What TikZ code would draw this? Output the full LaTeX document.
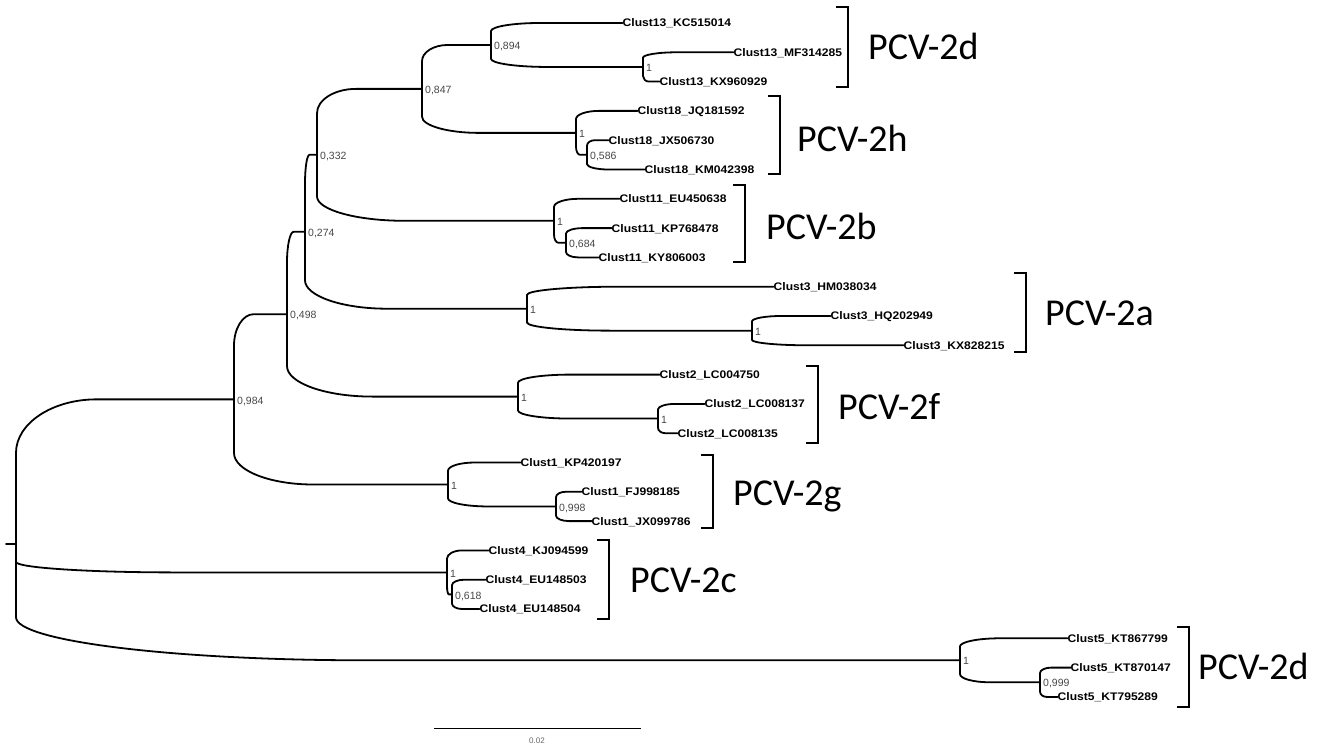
\documentclass[tikz,border=0pt]{standalone}
\usepackage{fontspec}
\setmainfont{Liberation Sans}
\newfontfamily\tipfont[FakeStretch=1.1]{Liberation Sans}
\newfontfamily\pcvfont{Carlito}
\usetikzlibrary{calc}
\tikzset{
  tree/.style={line width=1.8pt, black, line cap=round},
  br/.style={to path={
    let \p1=(\tikztostart), \p2=(\tikztotarget) in
    -- (\x1, {\y1+0.63*(\y2-\y1)})
    .. controls (\x1, {\y1+0.834*(\y2-\y1)}) and ({\x1+0.166*(\x2-\x1)}, \y2)
    .. ({\x1+0.37*(\x2-\x1)}, \y2) -- (\tikztotarget)}},
  tip/.style={anchor=west, inner sep=0pt, font=\tipfont\bfseries\fontsize{11}{12}\selectfont, text height=7.8pt, text depth=0pt},
  bs/.style={anchor=west, inner sep=0pt, font=\fontsize{10.5}{12}\selectfont, text=black!72, text height=7.3pt, text depth=0pt},
  pcv/.style={anchor=west, inner sep=0pt, font=\pcvfont\fontsize{38}{40}\selectfont, text height=24.5pt, text depth=0pt},
  brk/.style={line width=1.5pt, black},
}
\begin{document}
\begin{tikzpicture}[x=1pt,y=-1pt]
\useasboundingbox (0,0) rectangle (1324,746);
% internal nodes
\coordinate (r) at (16,544);
\coordinate (rt) at (6,544);
\coordinate (n0984) at (234,399.35);
\coordinate (n0498) at (287,314.2);
\coordinate (n0274) at (305,231.8);
\coordinate (n0332) at (317,154.85);
\coordinate (n0847) at (422,88.9);
\coordinate (n0894) at (491,44.98);
\coordinate (n13) at (643,66.95);
\coordinate (n18) at (576,132.9);
\coordinate (n0586) at (587,154.85);
\coordinate (n11) at (554,220.8);
\coordinate (n0684) at (566,242.75);
\coordinate (n3) at (527,308.7);
\coordinate (n3b) at (752,330.65);
\coordinate (n2) at (518,396.6);
\coordinate (n2b) at (658,418.55);
\coordinate (n1) at (448,484.5);
\coordinate (n0998) at (556,506.45);
\coordinate (n4) at (447,572.4);
\coordinate (n0618) at (452,594.35);
\coordinate (n5) at (960,660.3);
\coordinate (n0999) at (1040,682.25);
% tips
\node[tip] (t1) at (622.5,23) {Clust13\_KC515014};
\node[tip] (t2) at (733.5,52.3) {Clust13\_MF314285};
\node[tip] (t3) at (659.5,81.6) {Clust13\_KX960929};
\node[tip] (t4) at (637.5,110.9) {Clust18\_JQ181592};
\node[tip] (t5) at (608.5,140.2) {Clust18\_JX506730};
\node[tip] (t6) at (644.5,169.5) {Clust18\_KM042398};
\node[tip] (t7) at (619.5,198.8) {Clust11\_EU450638};
\node[tip] (t8) at (611.5,228.1) {Clust11\_KP768478};
\node[tip] (t9) at (598.5,257.4) {Clust11\_KY806003};
\node[tip] (t10) at (773.5,286.7) {Clust3\_HM038034};
\node[tip] (t11) at (830.5,316) {Clust3\_HQ202949};
\node[tip] (t12) at (903.5,345.3) {Clust3\_KX828215};
\node[tip] (t13) at (659.5,374.6) {Clust2\_LC004750};
\node[tip] (t14) at (704.5,403.9) {Clust2\_LC008137};
\node[tip] (t15) at (677.5,433.2) {Clust2\_LC008135};
\node[tip] (t16) at (520.5,462.5) {Clust1\_KP420197};
\node[tip] (t17) at (581.5,491.8) {Clust1\_FJ998185};
\node[tip] (t18) at (591.5,521.1) {Clust1\_JX099786};
\node[tip] (t19) at (488.5,550.4) {Clust4\_KJ094599};
\node[tip] (t20) at (485.5,579.7) {Clust4\_EU148503};
\node[tip] (t21) at (479.5,609) {Clust4\_EU148504};
\node[tip] (t22) at (1067.5,638.3) {Clust5\_KT867799};
\node[tip] (t23) at (1070.5,667.6) {Clust5\_KT870147};
\node[tip] (t24) at (1057.5,696.9) {Clust5\_KT795289};
% branches
\draw[tree] (rt) -- (r);
\foreach \a/\b in {r/n0984, r/n4, r/n5, n0984/n0498, n0984/n1, n0498/n0274, n0498/n2,
  n0274/n0332, n0274/n3, n0332/n0847, n0332/n11, n0847/n0894, n0847/n18,
  n0894/t1.west, n0894/n13, n13/t2.west, n13/t3.west, n18/t4.west, n18/n0586,
  n0586/t5.west, n0586/t6.west, n11/t7.west, n11/n0684, n0684/t8.west, n0684/t9.west,
  n3/t10.west, n3/n3b, n3b/t11.west, n3b/t12.west, n2/t13.west, n2/n2b,
  n2b/t14.west, n2b/t15.west, n1/t16.west, n1/n0998, n0998/t17.west, n0998/t18.west,
  n4/t19.west, n4/n0618, n0618/t20.west, n0618/t21.west, n5/t22.west, n5/n0999,
  n0999/t23.west, n0999/t24.west}
  \draw[tree] (\a) to[br] (\b);
% support values
\foreach \n/\v in {n0984/{0,984}, n0498/{0,498}, n0274/{0,274}, n0332/{0,332}, n0847/{0,847},
  n0894/{0,894}, n13/1, n18/1, n0586/{0,586}, n11/1, n0684/{0,684}, n3/1, n3b/1,
  n2/1, n2b/1, n1/1, n0998/{0,998}, n4/1, n0618/{0,618}, n5/1, n0999/{0,999}}
  \node[bs] (b-\n) at ($(\n)+(3,1)$) {\v};
% brackets
\draw[brk] (836,7) -- (848,7) -- (848,87) -- (836,87);
\draw[brk] (768,96) -- (780,96) -- (780,174) -- (768,174);
\draw[brk] (733,185) -- (745,185) -- (745,262) -- (733,262);
\draw[brk] (1014,273) -- (1026,273) -- (1026,352) -- (1014,352);
\draw[brk] (806,366) -- (818,366) -- (818,443) -- (806,443);
\draw[brk] (701,455) -- (713,455) -- (713,528) -- (701,528);
\draw[brk] (597,540) -- (609,540) -- (609,619) -- (597,619);
\draw[brk] (1177,627) -- (1189,627) -- (1189,707) -- (1177,707);
% clade names
\node[pcv] (p1) at (868,47) {PCV-2d};
\node[pcv] (p2) at (797,139) {PCV-2h};
\node[pcv] (p3) at (766,227) {PCV-2b};
\node[pcv] (p4) at (1045,313) {PCV-2a};
\node[pcv] (p5) at (838,407) {PCV-2f};
\node[pcv] (p6) at (733,493) {PCV-2g};
\node[pcv] (p7) at (630,580) {PCV-2c};
\node[pcv] (p8) at (1198,667) {PCV-2d};
% scale bar
\coordinate (sb1) at (434,728);
\coordinate (sb2) at (641,728);
\draw[line width=0.9pt] (sb1) -- (sb2);
\node[inner sep=0pt, font=\fontsize{8}{9}\selectfont, text=black!60] (sbl) at (537,741) {0.02};
\end{tikzpicture}
\end{document}
